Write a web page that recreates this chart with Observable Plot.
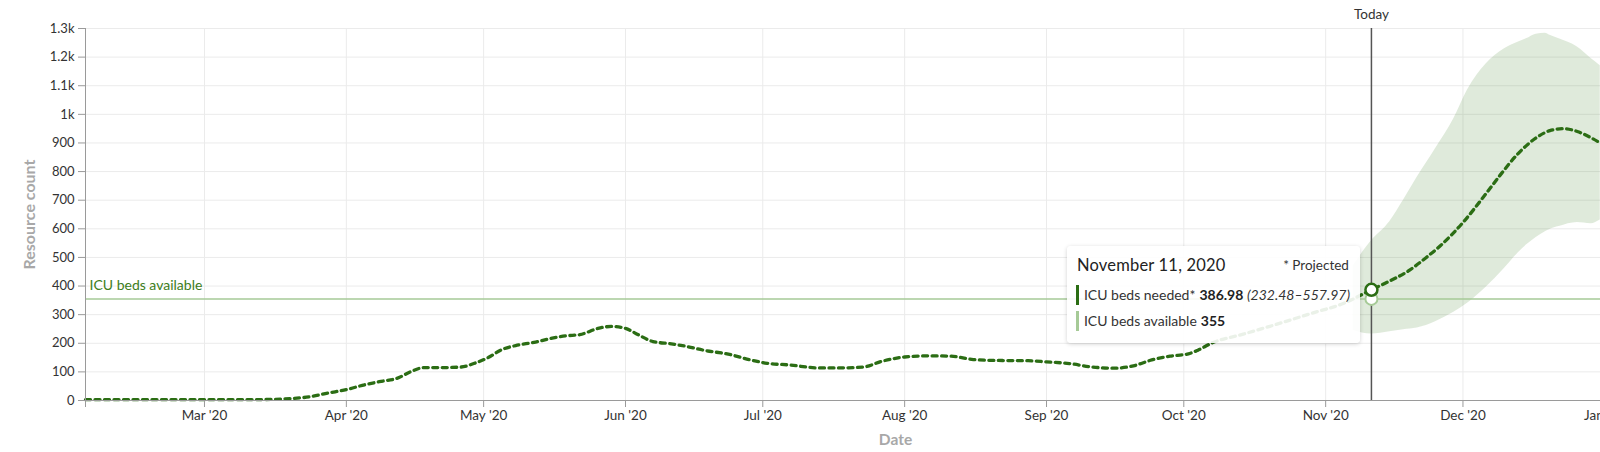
<!DOCTYPE html>
<html>
<head>
<meta charset="utf-8">
<script src="https://cdn.jsdelivr.net/npm/d3@7"></script>
<script src="https://cdn.jsdelivr.net/npm/@observablehq/plot@0.6"></script>
<style>
  html, body { margin: 0; padding: 0; background: #fff; overflow: hidden; width: 1600px; height: 452px; }
  #wrap { position: relative; width: 1705px; height: 452px; font-family: Lato, "Open Sans", sans-serif; }
  #tip { position: absolute; width: 293px; height: 97px; box-sizing: border-box;
         background: rgba(255,255,255,0.9); border-radius: 4px;
         box-shadow: 0 1px 4px rgba(0,0,0,0.18); color: #2a2a2a; }
  #tip .t { position: absolute; left: 10px; top: 9px; font-size: 16.5px; line-height: 20px; color: #222; letter-spacing: 0.2px; }
  #tip .p { position: absolute; right: 11px; top: 10px; font-size: 13.5px; line-height: 18px; color: #333; }
  #tip .r { position: absolute; left: 9px; height: 20px; line-height: 20px; font-size: 14px; padding-left: 5px; white-space: nowrap; color: #333; }
  #tip .r b { font-weight: 700; color: #222; margin-left: 4px; }
  #tip .r i { color: #333; }
</style>
</head>
<body>
<div id="wrap"></div>
<script>
// ---- data ----
const neededDates = [
  "2020-02-04","2020-02-15","2020-03-01","2020-03-10","2020-03-16","2020-03-20","2020-03-24","2020-03-28",
  "2020-04-01","2020-04-05","2020-04-09","2020-04-12","2020-04-15","2020-04-18","2020-04-22","2020-04-26",
  "2020-04-29","2020-05-02","2020-05-05","2020-05-08","2020-05-12","2020-05-16","2020-05-19","2020-05-22",
  "2020-05-26","2020-05-29","2020-06-01","2020-06-04","2020-06-07","2020-06-11","2020-06-14","2020-06-18",
  "2020-06-24","2020-06-28","2020-07-02","2020-07-07","2020-07-13","2020-07-18","2020-07-23","2020-07-27",
  "2020-08-01","2020-08-06","2020-08-11","2020-08-16","2020-08-21","2020-08-28","2020-09-01","2020-09-06",
  "2020-09-11","2020-09-16","2020-09-20","2020-09-24","2020-09-28","2020-10-02","2020-10-04","2020-10-07",
  "2020-10-14","2020-10-21","2020-10-29","2020-11-05","2020-11-11",
  "2020-11-14","2020-11-19","2020-11-23","2020-11-26","2020-12-01","2020-12-06","2020-12-09","2020-12-13",
  "2020-12-17","2020-12-20","2020-12-23","2020-12-26","2020-12-29","2020-12-31"
];
const neededValues = [
  3,3,3,3,4,7,13,26,
  38,55,68,77,100,115,115,117,
  130,150,178,192,203,218,226,230,
  252,259,252,228,206,198,190,176,
  160,143,130,124,114,114,117,137,
  152,156,155,143,140,139,135,129,
  117,113,121,142,155,163,175,200,
  232,265,305,340,386.98,
  410,452,500,540,622,722,785,862,
  918,943,950,940,918,900
];
const bandDates = [
  "2020-11-07","2020-11-11","2020-11-15","2020-11-18","2020-11-21","2020-11-25","2020-11-29","2020-12-02",
  "2020-12-06","2020-12-10","2020-12-13","2020-12-15","2020-12-17","2020-12-19","2020-12-20","2020-12-22",
  "2020-12-26","2020-12-29","2020-12-31"
];
const bandLower = [
  245,232.48,240,247,253,275,308,340,
  395,460,515,545,570,590,598,608,
  622,618,631
];
const bandUpper = [
  470,557.97,625,700,780,880,985,1085,
  1175,1228,1252,1265,1280,1283,1276,1264,
  1235,1195,1170
];
const bedsAvailable = 355;
const todayDate = "2020-11-11";
const xDomain = ["2020-02-04", "2021-01-23"];
const xTickDates = ["2020-03-01","2020-04-01","2020-05-01","2020-06-01","2020-07-01","2020-08-01",
  "2020-09-01","2020-10-01","2020-11-01","2020-12-01","2021-01-01"];
const yTicks = [0,100,200,300,400,500,600,700,800,900,1000,1100,1200,1300];
const yDomain = [0, 1300];
const tipTitle = "November 11, 2020";
const tipNeeded = {label: "ICU beds needed*", value: "386.98", range: "(232.48–557.97)"};
const tipAvail = {label: "ICU beds available", value: "355"};

// ---- build tables ----
const parse = d3.utcParse("%Y-%m-%d");
const needed = neededDates.map((d, i) => ({date: parse(d), value: neededValues[i]}));
const band = bandDates.map((d, i) => ({date: parse(d), lo: bandLower[i], hi: bandUpper[i]}));
const today = parse(todayDate);
const todayValue = neededValues[neededDates.indexOf(todayDate)];
const x0 = parse(xDomain[0]);
const xTicks = xTickDates.map(parse);
const yMid = (yDomain[0] + yDomain[1]) / 2;

const dark = "#2b6d14";
const light = "#a6ca97";

const plot = Plot.plot({
  width: 1705,
  height: 452,
  marginLeft: 85,
  marginRight: 0,
  marginTop: 28,
  marginBottom: 52,
  style: {fontFamily: "Lato, 'Open Sans', sans-serif", fontSize: "12.5px", color: "#333", background: "white", overflow: "visible"},
  x: {type: "utc", domain: xDomain.map(parse)},
  y: {domain: yDomain},
  marks: [
    Plot.gridY(yTicks, {stroke: "#ebebeb", strokeOpacity: 1}),
    Plot.gridX(xTicks, {stroke: "#ebebeb", strokeOpacity: 1}),
    Plot.areaY(band, {x: "date", y1: "lo", y2: "hi", fill: "#4f8a35", fillOpacity: 0.18, curve: "monotone-x"}),
    Plot.ruleY([bedsAvailable], {stroke: light, strokeWidth: 1.5}),
    Plot.text(["ICU beds available"], {x: x0, y: bedsAvailable, textAnchor: "start", dx: 4, dy: -13, fill: "#3d7d20", fontSize: 14}),
    Plot.ruleX([today], {stroke: "#555", strokeWidth: 1.5}),
    Plot.text(["Today"], {x: today, frameAnchor: "top", dy: -19, fill: "#333", fontSize: 13.5}),
    Plot.line(needed, {x: "date", y: "value", stroke: dark, strokeWidth: 3.3, strokeDasharray: "5,4.5", curve: "monotone-x"}),
    Plot.ruleY([0], {stroke: "#9a9a9a"}),
    Plot.ruleX([x0], {stroke: "#9a9a9a", insetBottom: -7}),
    Plot.axisY({ticks: yTicks, tickFormat: d3.format("~s"), tickSize: 7, tickPadding: 4, stroke: "#9a9a9a", fill: "#333", fontSize: 13, label: null}),
    Plot.axisX({ticks: xTicks, tickFormat: d3.utcFormat("%b '%y"), tickSize: 7, tickPadding: 3, stroke: "#9a9a9a", fill: "#333", fontSize: 13.5, label: null}),
    Plot.text(["Resource count"], {x: x0, y: yMid, dx: -56, rotate: -90, textAnchor: "middle", lineAnchor: "middle", fill: "#a8a8a8", fontSize: 16, fontWeight: 700}),
    Plot.text(["Date"], {frameAnchor: "bottom", dy: 44, fill: "#a8a8a8", fontSize: 15.5, fontWeight: 700})
  ]
});

const wrap = document.getElementById("wrap");
wrap.appendChild(plot);

const xs = plot.scale("x"), ys = plot.scale("y");
const tx = xs.apply(today);

// tooltip (HTML overlay positioned from the scales)
const tip = document.createElement("div");
tip.id = "tip";
tip.style.left = (tx - 11 - 293) + "px";
tip.style.top = (ys.apply(todayValue) - 43) + "px";
tip.innerHTML = `
  <div class="t">${tipTitle}</div>
  <div class="p">* Projected</div>
  <div class="r" style="top:39px;border-left:3px solid ${dark}">${tipNeeded.label}<b>${tipNeeded.value}</b> <i>${tipNeeded.range}</i></div>
  <div class="r" style="top:65px;border-left:3px solid ${light}">${tipAvail.label}<b>${tipAvail.value}</b></div>`;
wrap.appendChild(tip);

// markers above the tooltip
const dots = Plot.plot({
  width: 1705, height: 452, marginLeft: 85, marginRight: 0, marginTop: 28, marginBottom: 52,
  x: {type: "utc", domain: xDomain.map(parse)}, y: {domain: yDomain},
  axis: null,
  style: {background: "transparent", overflow: "visible"},
  marks: [
    Plot.dot([{date: today, value: bedsAvailable}], {x: "date", y: "value", r: 6, fill: "white", stroke: light, strokeWidth: 2}),
    Plot.dot([{date: today, value: todayValue}], {x: "date", y: "value", r: 6, fill: "white", stroke: dark, strokeWidth: 2.5})
  ]
});
dots.style.position = "absolute";
dots.style.left = "0px";
dots.style.top = "0px";
dots.style.pointerEvents = "none";
wrap.appendChild(dots);
</script>
</body>
</html>
